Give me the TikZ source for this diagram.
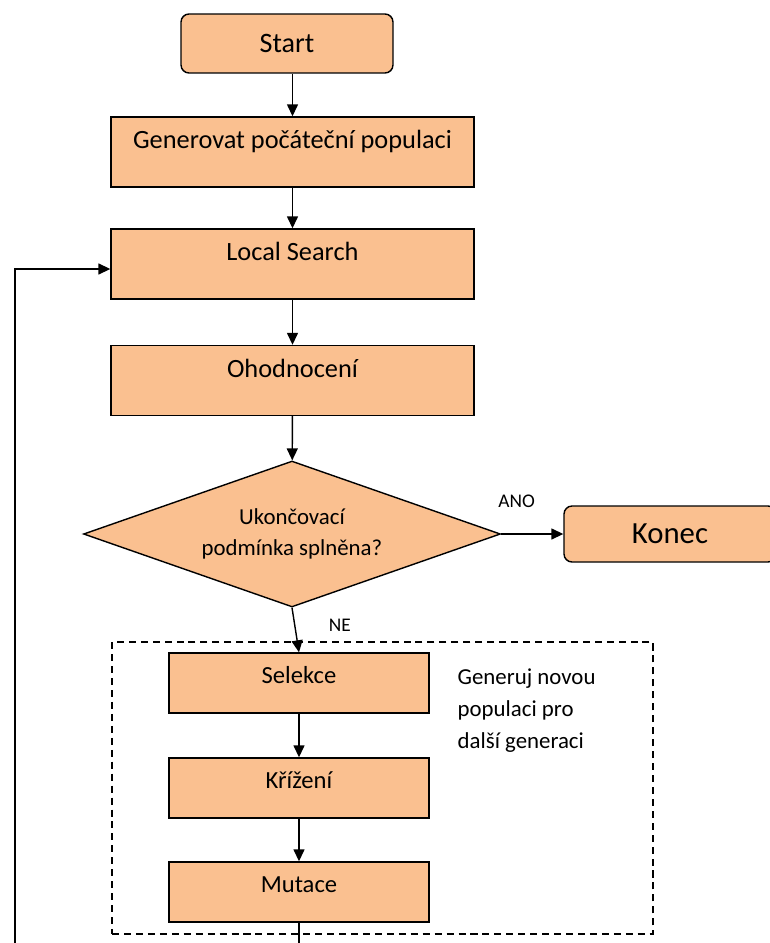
\documentclass[tikz,border=0pt]{standalone}
\usepackage{fontspec}
\setmainfont{Carlito}
\usepackage{xcolor}
\usepackage{tikz}
\usetikzlibrary{arrows.meta,shapes.geometric,positioning}
\definecolor{oranzova}{RGB}{250,192,144}

\begin{document}
\begin{tikzpicture}[
    x=0.02cm, y=-0.02cm,
    >={Triangle[length=2.4mm,width=2.2mm]},
    line width=0.8pt,
    krok/.style={draw, fill=oranzova, minimum width=7.26cm, minimum height=1.4cm,
        font=\fontsize{15}{18}\selectfont, text height=0.4cm, text depth=0.53cm},
    operace/.style={draw, fill=oranzova, minimum width=5.2cm, minimum height=1.2cm,
        font=\fontsize{14}{17}\selectfont, text height=0.37cm, text depth=0.36cm},
    kraj/.style={draw, fill=oranzova, rounded corners=0.16cm, minimum width=4.24cm},
    popisek/.style={font=\fontsize{11}{13}\selectfont}
]
\useasboundingbox (0,0) rectangle (770,943);
\clip (0,0) rectangle (770,943);

%------------------------------------------------
% Bloky
%------------------------------------------------
\node[draw, dash pattern=on 4pt off 2.8pt, line width=0.7pt,
    minimum width=10.82cm, minimum height=5.84cm] (skupina) at (382.5,788) {};

\node[kraj, minimum height=1.18cm, font=\fontsize{16}{19}\selectfont] (start) at (287,43.5) {Start};

\foreach \y/\nome/\txt in {
152/generovat/{Generovat počáteční populaci},
264/hledani/{Local Search},
380.5/ohodnoceni/{Ohodnocení}}
{
    \node[krok] (\nome) at (292.5,\y) {\txt};
}

\node[draw, fill=oranzova, diamond, aspect=2.86, minimum width=8.34cm, minimum height=2.92cm,
    inner sep=0pt, align=center, font=\fontsize{13}{18}\selectfont]
    (podminka) at (292,534) {Ukončovací\\podmínka splněna?};

\node[kraj, minimum height=1.12cm, font=\fontsize{17.5}{21}\selectfont] (konec) at (670,534) {Konec};

\foreach \y/\nome/\txt in {
683/selekce/{Selekce},
788/krizeni/{Křížení},
892/mutace/{Mutace}}
{
    \node[operace] (\nome) at (299,\y) {\txt};
}

\node[anchor=west, align=left, inner sep=0pt, font=\fontsize{13}{18.2}\selectfont]
    (popis) at (457,711) {Generuj novou\\populaci pro\\další generaci};

%------------------------------------------------
% Spojnice
%------------------------------------------------
\draw[->] (start.south -| generovat) -- (generovat);
\draw[->] (generovat) -- (hledani);
\draw[->] (hledani) -- (ohodnoceni);
\draw[->] (ohodnoceni) -- (podminka);

% ano -> konec
\draw[->] (podminka.east) --
    node[popisek, pos=0.25, yshift=0.66cm] (ano) {ANO}
    (konec.west);

% ne -> selekce
\draw[->] (podminka.south) --
    node[popisek, pos=0.4, xshift=0.9cm] (ne) {NE}
    (selekce.north);

\draw[->] (selekce) -- (krizeni);
\draw[->] (krizeni) -- (mutace);

% navrat do Local Search
\coordinate (navrat) at (15,269);
\draw[->] (mutace.south) -- ++(0,60) -| (navrat) -- (navrat -| hledani.west);

\end{tikzpicture}
\end{document}
